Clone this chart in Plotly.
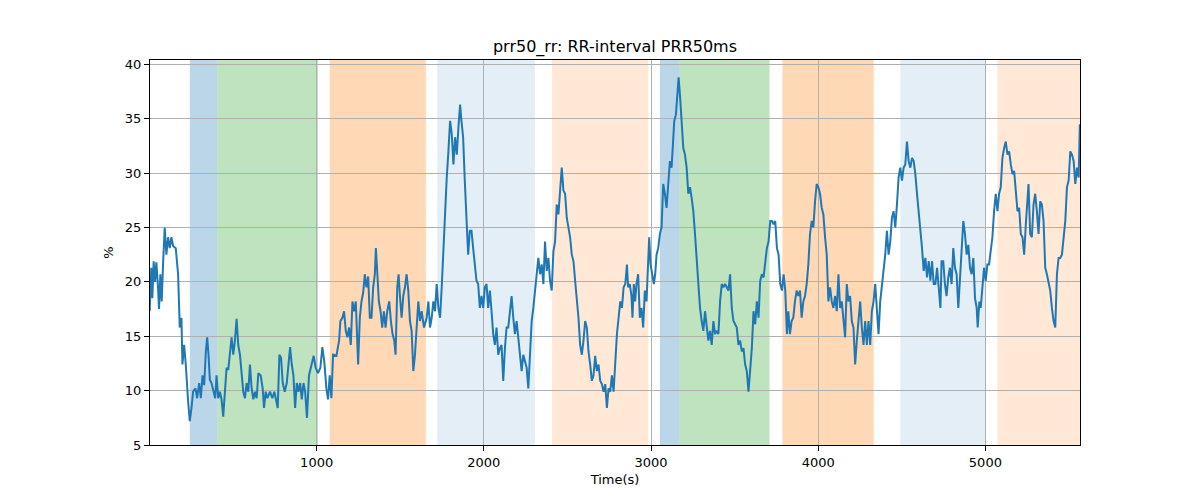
import plotly.graph_objects as go

# time (s) and PRR50 (%)
time_s = [1, 11, 17, 25, 33, 41, 51, 57, 65, 73, 81, 91, 101, 111, 121, 131, 141, 157, 171, 181,
          191, 197, 207, 217, 231, 241, 251, 261, 275, 285, 297, 307, 317, 327, 337, 345, 353, 361, 371, 385,
          393, 401, 411, 421, 431, 441, 451, 461, 471, 481, 491, 501, 511, 521, 531, 541, 551, 561, 571, 581,
          591, 601, 611, 621, 631, 641, 651, 665, 677, 685, 695, 705, 721, 735, 747, 757, 767, 777, 787, 797,
          809, 821, 831, 841, 851, 861, 871, 881, 891, 901, 911, 921, 931, 942, 954, 968, 982, 994, 1008, 1022,
          1034, 1046, 1058, 1068, 1078, 1088, 1098, 1118, 1134, 1142, 1154, 1164, 1174, 1184, 1194, 1204, 1214, 1224, 1234, 1248,
          1258, 1268, 1278, 1288, 1298, 1308, 1318, 1328, 1338, 1348, 1354, 1362, 1372, 1382, 1392, 1402, 1412, 1422, 1434, 1444,
          1454, 1464, 1472, 1482, 1490, 1498, 1508, 1518, 1528, 1538, 1548, 1558, 1568, 1578, 1588, 1598, 1608, 1618, 1628, 1642,
          1658, 1668, 1678, 1688, 1698, 1708, 1718, 1728, 1738, 1748, 1758, 1768, 1778, 1788, 1798, 1808, 1818, 1828, 1838, 1848,
          1858, 1866, 1876, 1886, 1896, 1906, 1916, 1926, 1936, 1946, 1956, 1966, 1976, 1986, 1996, 2006, 2016, 2026, 2036, 2046,
          2056, 2066, 2076, 2086, 2096, 2106, 2116, 2126, 2136, 2146, 2156, 2166, 2176, 2186, 2196, 2206, 2216, 2226, 2236, 2246,
          2256, 2266, 2276, 2286, 2296, 2306, 2316, 2326, 2336, 2346, 2356, 2366, 2376, 2386, 2396, 2406, 2416, 2426, 2436, 2446,
          2456, 2466, 2476, 2486, 2496, 2506, 2516, 2526, 2536, 2546, 2556, 2566, 2576, 2586, 2596, 2606, 2616, 2626, 2636, 2646,
          2656, 2666, 2676, 2686, 2696, 2706, 2716, 2726, 2736, 2746, 2756, 2766, 2776, 2786, 2796, 2806, 2816, 2826, 2836, 2846,
          2856, 2863, 2873, 2883, 2889, 2897, 2905, 2913, 2923, 2933, 2943, 2953, 2963, 2973, 2983, 2989, 2997, 3007, 3017, 3025,
          3033, 3043, 3053, 3063, 3073, 3083, 3093, 3103, 3113, 3123, 3133, 3139, 3149, 3157, 3165, 3173, 3183, 3193, 3203, 3213,
          3223, 3233, 3243, 3253, 3263, 3273, 3283, 3293, 3303, 3313, 3323, 3333, 3343, 3353, 3363, 3373, 3383, 3393, 3403, 3413,
          3423, 3433, 3443, 3453, 3463, 3473, 3483, 3493, 3503, 3513, 3523, 3533, 3543, 3553, 3563, 3573, 3583, 3593, 3603, 3613,
          3623, 3633, 3643, 3653, 3663, 3673, 3683, 3693, 3703, 3713, 3723, 3733, 3743, 3753, 3763, 3773, 3783, 3793, 3803, 3813,
          3821, 3831, 3841, 3851, 3861, 3871, 3881, 3891, 3901, 3911, 3921, 3931, 3941, 3951, 3961, 3971, 3981, 3991, 4001, 4011,
          4021, 4031, 4041, 4051, 4061, 4071, 4081, 4091, 4101, 4111, 4121, 4131, 4141, 4151, 4161, 4171, 4181, 4191, 4201, 4211,
          4221, 4231, 4241, 4251, 4261, 4271, 4281, 4291, 4301, 4311, 4321, 4331, 4341, 4351, 4361, 4371, 4381, 4391, 4401, 4411,
          4421, 4431, 4441, 4451, 4461, 4471, 4481, 4491, 4501, 4511, 4521, 4531, 4541, 4551, 4561, 4571, 4581, 4591, 4601, 4611,
          4621, 4631, 4641, 4651, 4661, 4671, 4681, 4691, 4701, 4711, 4721, 4731, 4738, 4748, 4758, 4768, 4778, 4788, 4798, 4808,
          4818, 4828, 4838, 4848, 4858, 4868, 4878, 4888, 4898, 4908, 4918, 4928, 4938, 4948, 4954, 4964, 4972, 4982, 4992, 5002,
          5012, 5022, 5032, 5042, 5052, 5062, 5072, 5082, 5092, 5102, 5112, 5122, 5132, 5142, 5152, 5162, 5172, 5182, 5192, 5202,
          5212, 5222, 5232, 5242, 5252, 5258, 5268, 5278, 5288, 5298, 5308, 5318, 5328, 5338, 5348, 5358, 5368, 5378, 5388, 5398,
          5408, 5418, 5428, 5438, 5448, 5458, 5468, 5478, 5488, 5498, 5508, 5518, 5528, 5538, 5548, 5558, 5565]
prr50 = [17.3, 21.3, 18.5, 21.9, 20.0, 21.8, 19.5, 17.5, 20.7, 18.2, 21.6, 25.0, 22.5, 24.1, 23.1, 24.1, 23.3, 23.1, 20.7, 15.8,
         16.7, 12.4, 14.2, 12.4, 9.0, 7.2, 8.4, 9.9, 10.2, 9.3, 10.7, 9.3, 11.4, 10.5, 13.6, 14.9, 13.3, 11.0, 10.7, 9.9,
         9.3, 11.4, 9.3, 9.9, 9.2, 7.6, 10.2, 12.1, 11.9, 13.3, 14.9, 13.3, 14.6, 16.6, 14.2, 13.3, 11.4, 9.9, 9.3, 10.7,
         9.9, 12.4, 10.2, 9.2, 9.9, 9.3, 11.6, 11.4, 10.2, 8.4, 9.9, 9.3, 9.9, 9.3, 9.9, 9.2, 8.4, 13.3, 13.0, 10.7,
         9.9, 10.7, 12.4, 14.0, 12.4, 11.4, 8.4, 10.7, 9.9, 10.7, 9.2, 10.7, 9.9, 7.5, 11.4, 12.4, 13.2, 12.1, 11.6, 12.1,
         14.0, 12.6, 10.2, 9.2, 11.4, 9.3, 13.3, 13.2, 14.6, 16.4, 16.7, 17.3, 15.5, 14.9, 15.8, 14.2, 18.2, 17.3, 18.2, 12.4,
         16.7, 18.2, 19.0, 20.7, 19.5, 20.5, 16.7, 16.7, 19.5, 20.7, 23.1, 21.0, 18.2, 17.3, 15.8, 17.3, 15.8, 17.3, 18.2, 16.4,
         15.2, 14.6, 13.3, 19.5, 20.7, 18.7, 16.7, 18.7, 19.5, 20.7, 19.2, 16.4, 15.5, 11.8, 13.3, 15.8, 18.2, 16.4, 17.3, 15.8,
         16.7, 18.2, 15.8, 16.7, 18.2, 17.3, 19.8, 17.6, 16.7, 19.5, 22.8, 27.1, 29.6, 32.0, 34.8, 33.6, 30.8, 33.3, 31.7, 34.2,
         36.3, 34.8, 33.3, 29.3, 25.6, 22.5, 24.7, 24.7, 23.1, 21.6, 20.1, 19.8, 17.6, 18.7, 17.6, 19.5, 19.8, 17.6, 19.2, 17.3,
         15.2, 14.2, 15.8, 13.3, 13.9, 14.2, 10.9, 13.9, 15.8, 15.8, 17.3, 18.7, 16.7, 15.2, 16.4, 14.9, 13.3, 11.8, 13.3, 12.6,
         12.1, 10.2, 13.9, 16.4, 17.6, 19.5, 20.7, 22.2, 20.7, 21.6, 19.8, 23.7, 21.0, 22.2, 20.1, 19.2, 22.8, 23.7, 27.1, 26.2,
         28.1, 30.5, 28.4, 28.1, 25.9, 25.0, 24.1, 22.5, 21.9, 20.1, 18.7, 16.7, 14.2, 13.3, 14.6, 16.4, 15.8, 13.6, 12.4, 10.9,
         11.4, 13.2, 11.8, 12.4, 10.9, 10.6, 9.9, 10.6, 8.4, 10.2, 9.9, 11.4, 9.9, 13.3, 15.2, 16.7, 18.2, 17.6, 19.5, 19.8,
         21.6, 19.5, 19.8, 18.7, 16.7, 19.8, 18.2, 19.8, 20.7, 16.7, 17.6, 15.8, 19.2, 18.2, 21.9, 24.1, 21.6, 20.7, 19.8, 20.7,
         22.5, 23.1, 24.4, 25.0, 29.0, 28.1, 26.8, 29.0, 31.1, 30.5, 32.6, 34.8, 35.4, 37.5, 38.8, 37.2, 35.1, 32.3, 31.7, 30.5,
         28.1, 28.7, 27.7, 26.5, 24.4, 22.2, 19.5, 17.6, 16.4, 15.5, 17.3, 15.8, 14.6, 15.5, 14.2, 16.4, 15.2, 15.5, 15.2, 18.2,
         19.8, 19.5, 19.8, 19.5, 19.2, 20.7, 17.6, 16.4, 16.1, 15.8, 14.2, 14.6, 13.6, 13.9, 12.4, 11.8, 9.9, 12.1, 13.9, 17.3,
         16.1, 18.2, 16.7, 20.1, 20.7, 20.4, 21.6, 23.1, 23.7, 25.6, 25.6, 25.3, 25.6, 23.1, 22.5, 19.8, 19.2, 20.7, 19.2, 15.2,
         17.3, 15.2, 16.4, 16.7, 18.2, 19.2, 18.7, 19.2, 16.7, 18.2, 18.7, 19.8, 21.6, 24.4, 25.6, 25.0, 27.4, 29.0, 28.7, 28.1,
         26.8, 26.2, 24.1, 22.5, 18.2, 19.5, 18.2, 17.6, 18.7, 17.3, 20.7, 17.6, 18.2, 16.7, 14.9, 19.8, 18.2, 18.7, 16.4, 15.8,
         12.4, 14.6, 16.7, 18.2, 15.8, 14.2, 16.4, 14.2, 16.4, 14.2, 17.3, 18.2, 19.8, 17.6, 15.2, 18.2, 19.5, 20.7, 22.5, 24.7,
         22.5, 23.7, 25.9, 26.5, 25.0, 27.1, 29.6, 30.5, 29.3, 30.5, 30.8, 32.9, 31.1, 30.5, 31.4, 31.1, 29.9, 28.1, 26.5, 24.7,
         23.1, 21.0, 22.2, 20.4, 21.9, 20.1, 21.9, 19.8, 19.8, 21.3, 19.2, 17.6, 21.9, 21.9, 19.8, 18.7, 20.4, 21.3, 19.8, 23.1,
         21.3, 20.7, 17.6, 20.1, 22.5, 25.6, 24.4, 22.5, 23.4, 21.3, 20.7, 22.2, 18.5, 17.6, 15.8, 18.2, 17.6, 19.8, 21.3, 20.1,
         21.6, 21.6, 23.1, 24.1, 26.5, 28.1, 26.5, 28.1, 28.7, 31.4, 32.3, 32.9, 31.7, 32.0, 30.8, 29.9, 30.2, 28.4, 26.5, 26.8,
         24.4, 24.1, 22.5, 25.3, 27.7, 29.0, 24.4, 24.1, 27.1, 28.1, 26.5, 24.4, 27.4, 27.1, 25.6, 21.3, 20.7, 19.8, 19.2, 17.6,
         16.4, 15.8, 20.7, 22.2, 22.2, 22.5, 24.1, 25.6, 28.7, 29.3, 32.0, 31.7, 31.1, 29.0, 30.5, 29.6, 34.5]

# shaded phases
span_start = [241, 406, 1078, 1721, 2408, 3053, 3169, 3786, 4491, 5072]
span_end = [406, 1008, 1653, 2305, 2984, 3169, 3709, 4332, 5000, 5566]
span_color = ["rgba(31,119,180,0.3)", "rgba(44,160,44,0.3)", "rgba(255,127,14,0.3)",
              "rgba(31,119,180,0.12)", "rgba(255,127,14,0.17)", "rgba(31,119,180,0.3)",
              "rgba(44,160,44,0.3)", "rgba(255,127,14,0.3)", "rgba(31,119,180,0.12)",
              "rgba(255,127,14,0.17)"]

x_ticks = [1000, 2000, 3000, 4000, 5000]
y_ticks = [5, 10, 15, 20, 25, 30, 35, 40]

fig = go.Figure()
fig.add_trace(go.Scatter(x=time_s, y=prr50, mode="lines",
                         line=dict(color="#1f77b4", width=2), showlegend=False))

for s, e, c in zip(span_start, span_end, span_color):
    fig.add_vrect(x0=s, x1=e, fillcolor=c, line_width=0, layer="below")

axis_common = dict(showline=True, linecolor="black", linewidth=1, mirror=True,
                   ticks="outside", ticklen=5, tickcolor="black",
                   showgrid=True, gridcolor="#b0b0b0", gridwidth=1, zeroline=False,
                   tickfont=dict(size=13, color="black"))

fig.update_layout(
    width=1200, height=500,
    paper_bgcolor="white", plot_bgcolor="white",
    font=dict(family="DejaVu Sans", color="black"),
    margin=dict(l=142, r=128, t=52, b=63),
    title=dict(text="prr50_rr: RR-interval PRR50ms", x=0.5, xref="paper",
               y=0.924, yref="container", yanchor="middle", font=dict(size=16)),
    xaxis=dict(range=[3, 5566], tickvals=x_ticks,
               title=dict(text="Time(s)", font=dict(size=13), standoff=6), **axis_common),
    yaxis=dict(range=[5, 40.4], tickvals=y_ticks,
               title=dict(text="%", font=dict(size=13), standoff=8), **axis_common),
)

fig.write_html("out.html")
